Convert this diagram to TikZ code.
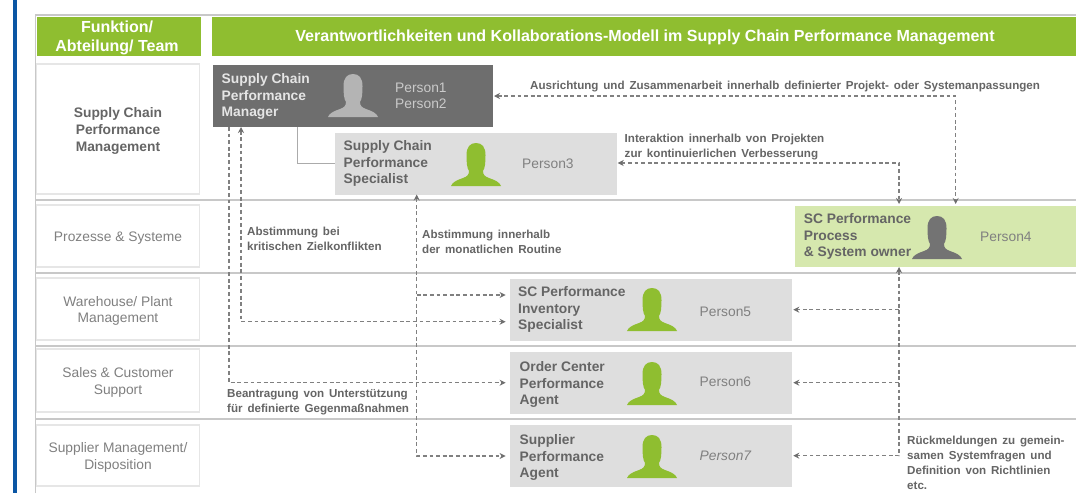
\documentclass[tikz,border=0pt]{standalone}
\usepackage{fontspec}
\setmainfont{Liberation Sans}
\usetikzlibrary{arrows.meta}
\definecolor{hgreen}{HTML}{8FBE30}
\definecolor{lgreen}{HTML}{D6E8AE}
\definecolor{dgray}{HTML}{6E6E6E}
\definecolor{lgray}{HTML}{DEDEDE}
\definecolor{sgray}{HTML}{C8C8C8}
\definecolor{bgray}{HTML}{E6E6E6}
\definecolor{tgray}{HTML}{656565}
\definecolor{pgray}{HTML}{808080}
\definecolor{icongray}{HTML}{B4B4B4}
\definecolor{iconhd}{HTML}{737373}
\definecolor{ablue}{HTML}{0B56A4}
\tikzset{
  x=1pt,y=-1pt,
  area/.style={draw=none,inner sep=0,outer sep=0,anchor=north west},
  rowbox/.style={area,draw=bgray,line width=1.1pt,fill=white,minimum width=163pt},
  rowtext/.style={inner sep=0,yshift=-2pt,text=pgray,align=center,font=\fontsize{13.8}{16.8}\selectfont},
  headbox/.style={area,fill=hgreen,minimum height=39pt},
  headtext/.style={inner sep=0,text=white,align=center,font=\bfseries\fontsize{16}{19}\selectfont},
  rolebox/.style={area,minimum height=62pt},
  role/.style={inner sep=0,anchor=west,align=left,yshift=-1.5pt,text=tgray,font=\bfseries\fontsize{13.8}{16.6}\selectfont},
  who/.style={inner sep=0,anchor=west,align=left,text=pgray,font=\fontsize{13.8}{16.4}\selectfont},
  note/.style={inner sep=0,anchor=west,align=left,yshift=-1pt,text=tgray,font=\bfseries\fontsize{11.6}{15}\selectfont\spaceskip 0.42em\relax},
  sepline/.style={draw=sgray,line width=1.2pt},
  dashline/.style={draw=pgray,line width=1.1pt,dash pattern=on 3.8pt off 2.8pt},
  tipend/.style={-{Stealth[length=6pt,width=6pt,color=dgray]}},
  tipboth/.style={{Stealth[length=6pt,width=6pt,color=dgray]}-{Stealth[length=6pt,width=6pt,color=dgray]}},
  personicon/.pic={
    \path[pic actions] (0,43) .. controls (1,39.5) and (6,37) .. (12,35)
      .. controls (16,33.5) and (18,32) .. (18,28)
      .. controls (16,25) and (15.5,20) .. (15.5,12)
      .. controls (15.5,4) and (19,0) .. (25,0)
      .. controls (31,0) and (34.5,4) .. (34.5,12)
      .. controls (34.5,20) and (34,25) .. (32,28)
      .. controls (32,32) and (34,33.5) .. (38,35)
      .. controls (44,37) and (49,39.5) .. (50,43) -- cycle;
  }
}
\begin{document}
\begin{tikzpicture}
\useasboundingbox (0,0) rectangle (1076,493);
\fill[white] (0,0) rectangle (1076,493);
\fill[ablue] (13,0) rectangle (17.2,493);
% frame and separators
\draw[sepline] (35.5,493) -- (35.5,15) -- (1076,15);
\foreach \yy in {200,273,346,419} \draw[sepline] (35.5,\yy) -- (1076,\yy);
% headers
\node[headbox,minimum width=164pt] (h1) at (36.5,17) {};
\node[headbox,minimum width=864pt] (h2) at (212,17) {};
\node[headtext] (th1) at (117,37.5) {Funktion/\\Abteilung/ Team};
\node[headtext,font=\bfseries\fontsize{16.05}{19}\selectfont] (th2) at (645,37.2) {Verantwortlichkeiten und Kollaborations-Modell im Supply Chain Performance Management};
% rows
\node[rowbox,minimum height=130pt] (r1) at (36.5,64) {};
\node[rowbox,minimum height=62pt] (r2) at (36.5,205) {};
\node[rowbox,minimum height=62pt] (r3) at (36.5,278) {};
\node[rowbox,minimum height=63pt] (r4) at (36.5,349) {};
\node[rowbox,minimum height=61pt] (r5) at (36.5,425) {};
\node[rowtext,text=tgray,font=\bfseries\fontsize{13.8}{16.6}\selectfont] (l1) at (r1.center) {Supply Chain\\Performance\\Management};
\node[rowtext] (l2) at (r2.center) {Prozesse \& Systeme};
\node[rowtext] (l3) at (r3.center) {Warehouse/ Plant\\Management};
\node[rowtext] (l4) at (r4.center) {Sales \& Customer\\Support};
\node[rowtext] (l5) at (r5.center) {Supplier Management/\\Disposition};
% role boxes
\node[rolebox,fill=dgray,minimum width=280.5pt] (mgr) at (212.5,65) {};
\node[rolebox,fill=lgray,minimum width=282pt] (spec) at (334.7,132.5) {};
\node[rolebox,fill=lgreen,minimum width=281pt,minimum height=61pt] (own) at (795,206) {};
\node[rolebox,fill=lgray,minimum width=282.7pt] (inv) at (509.6,278.5) {};
\node[rolebox,fill=lgray,minimum width=282.7pt] (ord) at (509.6,352) {};
\node[rolebox,fill=lgray,minimum width=282.7pt] (sup) at (509.6,425) {};
% icons
\pic[fill=icongray] at (328,74) {personicon};
\pic[fill=hgreen] at (451,143) {personicon};
\pic[fill=iconhd] at (912,216) {personicon};
\pic[fill=hgreen] at (627,288) {personicon};
\pic[fill=hgreen] at (627,362) {personicon};
\pic[fill=hgreen] at (627,435) {personicon};
% role text
\node[role,text=white!90!black] (tm) at (221.5,95) {Supply Chain\\Performance\\Manager};
\node[role] (ts) at (343.5,162) {Supply Chain\\Performance\\Specialist};
\node[role] (to) at (803.6,235) {SC Performance\\Process\\\& System owner};
\node[role] (ti) at (518,308) {SC Performance\\Inventory\\Specialist};
\node[role] (tr) at (519.5,383) {Order Center\\Performance\\Agent};
\node[role] (tu) at (519.5,456) {Supplier\\Performance\\Agent};
% persons
\node[who,text=icongray!70!white] (p12) at (395,96) {Person1\\Person2};
\node[who] (p3) at (522,163.5) {Person3};
\node[who] (p4) at (980,236.5) {Person4};
\node[who] (p5) at (699.5,311.5) {Person5};
\node[who] (p6) at (699.5,381.5) {Person6};
\node[who,font=\itshape\fontsize{13.8}{16.4}\selectfont] (p7) at (699.5,455.5) {Person7};
% notes
\node[note] (n1) at (530,86) {Ausrichtung und Zusammenarbeit innerhalb definierter Projekt- oder Systemanpassungen};
\node[note] (n2) at (624.5,146.5) {Interaktion innerhalb von Projekten\\zur kontinuierlichen Verbesserung};
\node[note] (n3) at (247,237.5) {Abstimmung bei\\kritischen Zielkonflikten};
\node[note] (n4) at (422,241) {Abstimmung innerhalb\\der monatlichen Routine};
\node[note] (n5) at (227,401.5) {Beantragung von Unterstützung\\für definierte Gegenmaßnahmen};
\node[note] (n6) at (907,462) {Rückmeldungen zu gemein-\\samen Systemfragen und\\Definition von Richtlinien\\etc.};
% bend points
\coordinate (a1) at (229,382.7);
\coordinate (a2) at (241,321.7);
\coordinate (a3) at (416.7,456);
\coordinate (a3b) at (416.7,295);
\coordinate (a4) at (955.7,96);
\coordinate (a5) at (899,163);
\coordinate (a6) at (899,455.7);
\coordinate (a6b) at (899,309.7);
\coordinate (a6c) at (899,382.7);
\coordinate (s1) at (297,163);
% connectors
\draw[sgray!60!gray,line width=1pt] (mgr.south -| s1) -- (s1) -- (spec.west |- s1);
\draw[dashline,tipend,shorten >=4pt] (mgr.south -| a1) -- (a1) -- (ord.west |- a1);
\draw[dashline,tipboth,shorten >=4pt] (mgr.south -| a2) -- (a2) -- (inv.west |- a2);
\draw[dashline,tipboth,shorten >=4pt] (spec.south -| a3) -- (a3) -- (sup.west |- a3);
\draw[dashline,tipend,shorten >=4pt] (a3b) -- (inv.west |- a3b);
\draw[dashline,tipboth,shorten <=1pt,shorten >=2pt] (mgr.east |- a4) -- (a4) -- (own.north -| a4);
\draw[dashline,tipboth,shorten <=1pt,shorten >=2pt] (spec.east |- a5) -- (a5) -- (own.north -| a5);
\draw[dashline,tipboth,shorten >=1pt] (own.south -| a6) -- (a6) -- (sup.east |- a6);
\draw[dashline,tipend,shorten >=1pt] (a6b) -- (inv.east |- a6b);
\draw[dashline,tipend,shorten >=1pt] (a6c) -- (ord.east |- a6c);
\end{tikzpicture}
\end{document}
